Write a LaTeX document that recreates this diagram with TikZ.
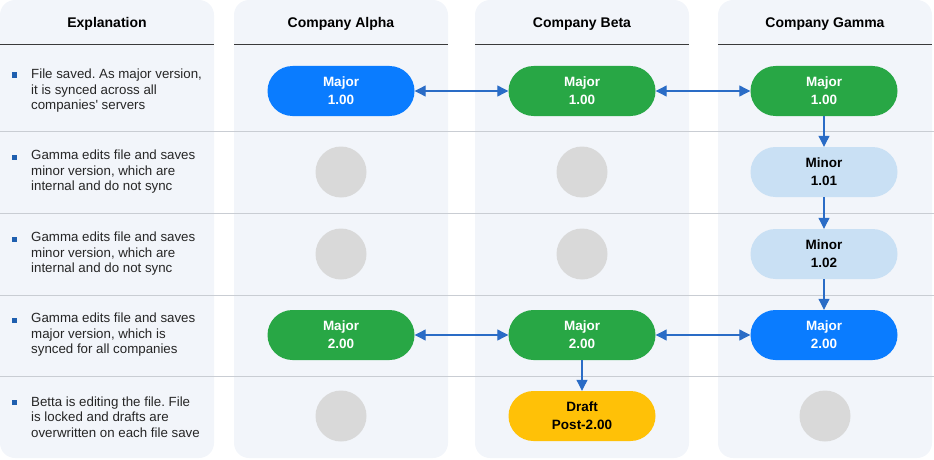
\documentclass[tikz,border=0pt]{standalone}
\usepackage{fontspec}
\setmainfont{Liberation Sans}
\frenchspacing
\usetikzlibrary{arrows.meta}
\definecolor{panel}{HTML}{F2F5FA}
\definecolor{sep}{HTML}{C9CDD3}
\definecolor{hdr}{HTML}{3A3A3A}
\definecolor{pblue}{HTML}{0A7CFF}
\definecolor{pgreen}{HTML}{28A745}
\definecolor{plight}{HTML}{C9E0F4}
\definecolor{pyellow}{HTML}{FFC107}
\definecolor{pgray}{HTML}{D9D9D9}
\definecolor{arrc}{HTML}{2A6CC6}
\definecolor{bul}{HTML}{1F5FAF}
\tikzset{
  panelbox/.style={fill=panel, draw=none, rounded corners=15pt},
  pill/.style={rectangle, rounded corners=25pt, minimum width=147pt, minimum height=50pt, inner sep=0pt, align=center, font=\fontsize{13.5}{18}\selectfont\bfseries},
  bluepill/.style={pill, fill=pblue, text=white},
  greenpill/.style={pill, fill=pgreen, text=white},
  lightpill/.style={pill, fill=plight, text=black},
  yellowpill/.style={pill, fill=pyellow, text=black},
  dot/.style={circle, minimum size=51pt, inner sep=0pt, fill=pgray},
  hdrtext/.style={font=\fontsize{14}{16}\selectfont\bfseries, text=black},
  expl/.style={anchor=west, align=left, inner sep=0pt, font=\fontsize{13.3}{15.5}\selectfont, text=black!85},
  bulletsq/.style={rectangle, fill=bul, minimum size=5pt, inner sep=0pt},
  arr/.style={draw=arrc, line width=1.1pt, {Triangle[length=11pt,width=11pt]}-{Triangle[length=11pt,width=11pt]}},
  arrone/.style={draw=arrc, line width=1.1pt, -{Triangle[length=11pt,width=11pt]}},
}
\begin{document}
\begin{tikzpicture}[x=1pt,y=-1pt]
\useasboundingbox (0,0) rectangle (934,460);
% panels
\fill[panelbox] (0,0) rectangle (214,458);
\fill[panelbox] (234,0) rectangle (448,458);
\fill[panelbox] (475,0) rectangle (689,458);
\fill[panelbox] (718,0) rectangle (932,458);
% header lines
\foreach \a/\b in {0/214,234/448,475/689,718/932}
  \draw[hdr, line width=0.9pt] (\a,44) -- (\b,44);
% row separators
\foreach \y in {131,213,295,376}
  \draw[sep, line width=1pt] (0,\y) -- (934,\y);
% headers
\node[hdrtext] (h0) at (107,24) {Explanation};
\node[hdrtext] (h1) at (341,24) {Company Alpha};
\node[hdrtext] (h2) at (582,24) {Company Beta};
\node[hdrtext] (h3) at (825,24) {Company Gamma};
% explanations
\node[expl] (e1) at (31,91) {File saved. As major version,\\it is synced across all\\companies\textquotesingle{} servers};
\node[expl] (e2) at (31,172) {Gamma edits file and saves\\minor version, which are\\internal and do not sync};
\node[expl] (e3) at (31,254) {Gamma edits file and saves\\minor version, which are\\internal and do not sync};
\node[expl] (e4) at (31,335) {Gamma edits file and saves\\major version, which is\\synced for all companies};
\node[expl] (e5) at (31,417) {Betta is editing the file. File\\is locked and drafts are\\overwritten on each file save};
\node[bulletsq] (b1) at (14,75) {};
\node[bulletsq] (b2) at (14,157) {};
\node[bulletsq] (b3) at (14,239) {};
\node[bulletsq] (b4) at (14,320) {};
\node[bulletsq] (b5) at (14,402) {};
% row 1
\node[bluepill] (a1) at (341,91) {Major\\1.00};
\node[greenpill] (c1) at (582,91) {Major\\1.00};
\node[greenpill] (g1) at (824,91) {Major\\1.00};
% row 2
\node[dot] (a2) at (341,172) {};
\node[dot] (c2) at (582,172) {};
\node[lightpill] (g2) at (824,172) {Minor\\1.01};
% row 3
\node[dot] (a3) at (341,254) {};
\node[dot] (c3) at (582,254) {};
\node[lightpill] (g3) at (824,254) {Minor\\1.02};
% row 4
\node[greenpill] (a4) at (341,335) {Major\\2.00};
\node[greenpill] (c4) at (582,335) {Major\\2.00};
\node[bluepill] (g4) at (824,335) {Major\\2.00};
% row 5
\node[dot] (a5) at (341,416) {};
\node[yellowpill] (c5) at (582,416) {Draft\\Post-2.00};
\node[dot] (g5) at (825,416) {};
% connectors
\draw[arr] (a1.east) -- (c1.west);
\draw[arr] (c1.east) -- (g1.west);
\draw[arrone] (g1.south) -- (g2.north);
\draw[arrone] (g2.south) -- (g3.north);
\draw[arrone] (g3.south) -- (g4.north);
\draw[arr] (a4.east) -- (c4.west);
\draw[arr] (c4.east) -- (g4.west);
\draw[arrone] (c4.south) -- (c5.north);
\end{tikzpicture}
\end{document}
